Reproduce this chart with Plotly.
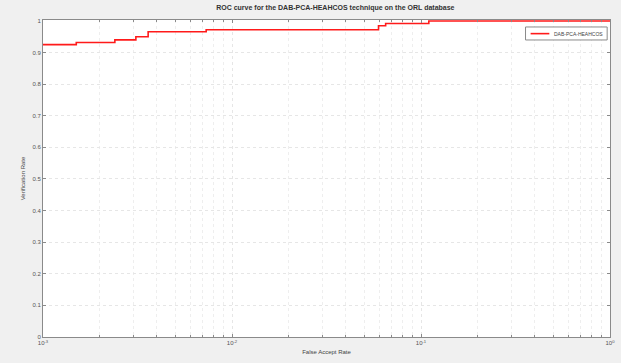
import plotly.graph_objects as go

# ROC operating points (false accept rate vs verification rate), step curve
far = [0.001, 0.0015, 0.0024, 0.0031, 0.0036, 0.0073, 0.0596, 0.065, 0.11, 1.0]
vr = [0.925, 0.932, 0.940, 0.950, 0.966, 0.972, 0.985, 0.992, 1.0, 1.0]

series_name = "DAB-PCA-HEAHCOS"
x_tickvals = [0.001, 0.01, 0.1, 1]
x_ticktext = ["10<sup>-3</sup>", "10<sup>-2</sup>", "10<sup>-1</sup>", "10<sup>0</sup>"]
x_minor = [m * d for d in (0.001, 0.01, 0.1) for m in range(2, 10)]
y_tickvals = [0, 0.1, 0.2, 0.3, 0.4, 0.5, 0.6, 0.7, 0.8, 0.9, 1]
y_ticktext = ["0", "0.1", "0.2", "0.3", "0.4", "0.5", "0.6", "0.7", "0.8", "0.9", "1"]

RED = "#ff1a1a"
FONT = "Liberation Sans"

fig = go.Figure()
fig.add_trace(go.Scatter(
    x=far, y=vr, mode="lines", name=series_name, showlegend=False,
    line=dict(color=RED, width=1.6, shape="hv"),
))

axis_common = dict(
    showline=True, linecolor="#8a8a8a", linewidth=1, mirror="ticks",
    ticks="inside", ticklen=3, tickcolor="#8a8a8a",
    showgrid=True, gridcolor="#e6e6e6", griddash="dot", gridwidth=1,
    zeroline=False, tickfont=dict(size=6, color="#555555", family=FONT),
)

fig.update_xaxes(
    type="log", range=[-3, 0],
    tickvals=x_tickvals, ticktext=x_ticktext,
    minor=dict(tickvals=x_minor, ticks="inside", ticklen=2, tickcolor="#8a8a8a",
               showgrid=True, gridcolor="#eeeeee", griddash="dot"),
    title=dict(text="False Accept Rate", font=dict(size=6, color="#444444", family=FONT),
               standoff=4),
    **axis_common,
)
fig.update_yaxes(
    range=[0, 1.003], tickvals=y_tickvals, ticktext=y_ticktext,
    title=dict(text="Verification Rate", font=dict(size=6, color="#444444", family=FONT),
               standoff=6),
    **axis_common,
)

# Compact legend box in the upper-right corner
fig.add_shape(type="rect", xref="paper", yref="paper",
              x0=0.851, x1=0.995, y0=0.937, y1=0.978,
              fillcolor="#ffffff", line=dict(color="#8a8a8a", width=1))
fig.add_shape(type="line", xref="paper", yref="paper",
              x0=0.86, x1=0.893, y0=0.957, y1=0.957,
              line=dict(color=RED, width=1.6))
fig.add_annotation(text=series_name, xref="paper", yref="paper",
                   x=0.897, y=0.957, xanchor="left", yanchor="middle",
                   showarrow=False, font=dict(size=5, color="#444444", family=FONT))

fig.update_layout(
    width=621, height=363,
    margin=dict(l=43, r=6, t=20, b=26),
    paper_bgcolor="#f0f0f0", plot_bgcolor="#ffffff",
    showlegend=False,
    title=dict(text="<b>ROC curve for the DAB-PCA-HEAHCOS technique on the ORL database</b>",
               x=0.54, xanchor="center", y=0.985, yanchor="top",
               font=dict(size=7, color="#333333", family=FONT)),
)

fig.write_html("out.html")
